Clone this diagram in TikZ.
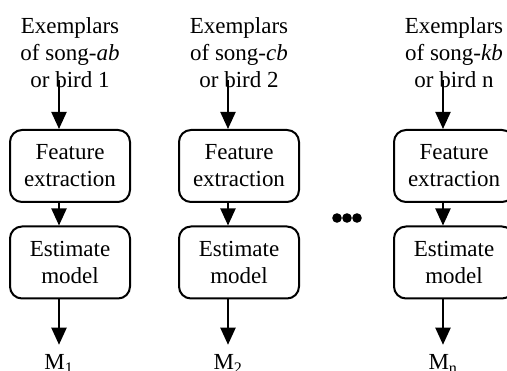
\documentclass[tikz,border=0pt]{standalone}
\usepackage{fontspec}
\setmainfont{Liberation Serif}
\usetikzlibrary{arrows.meta}
\begin{document}
\begin{tikzpicture}[x=1pt,y=-1pt,
  txt/.style={font=\fontsize{23}{27}\selectfont},
  stage/.style={txt, draw, line width=2pt, rounded corners=12pt,
    minimum width=120pt, minimum height=72pt, inner sep=0pt, align=center},
  source/.style={txt, anchor=north, inner sep=0pt, align=center},
  outlabel/.style={txt, anchor=base, inner xsep=0pt, inner ysep=10pt},
  flow/.style={line width=2pt, -{Triangle[length=17pt,width=15pt]}}]
\useasboundingbox (0,0) rectangle (507,371);

% one processing chain per song / bird
\foreach \i/\cx/\song/\bird in {1/70/ab/1, 2/239/cb/2, 3/454/kb/n} {
  \node[source] (t\i) at (\cx,17) {Exemplars\\of song-\textit{\song}\\or bird \bird};
  \node[stage] (f\i) at (\cx,166) {Feature\\extraction};
  \node[stage] (e\i) at (\cx,262.5) {Estimate\\model};
  \coordinate (s\i) at (\cx-11,80);
  \node[outlabel] (m\i) at (\cx-11,370) {M\textsubscript{\bird}};
  \draw[flow] (s\i) -- (s\i |- f\i.north);
  \draw[flow] (s\i |- f\i.south) -- (s\i |- e\i.north);
  \draw[flow] (s\i |- e\i.south) -- (m\i.north);
}

% ellipsis between the chains
\foreach \dx in {337,347,357}
  \fill (\dx,218) circle[radius=4.8];
\end{tikzpicture}
\end{document}
